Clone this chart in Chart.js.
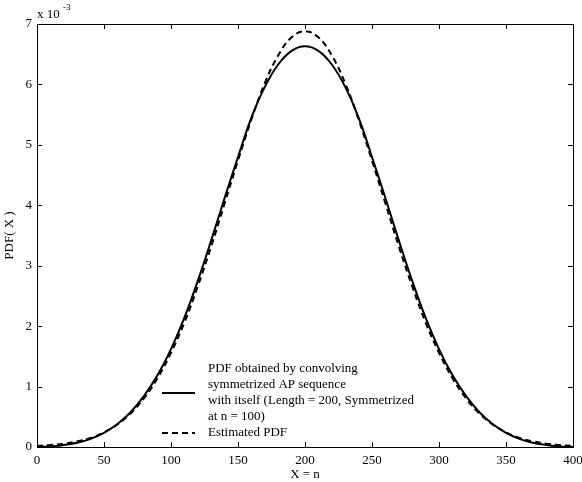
<!DOCTYPE html>
<html>
<head>
<meta charset="utf-8">
<script src="https://cdn.jsdelivr.net/npm/chart.js@4.4.0/dist/chart.umd.min.js"></script>
<style>
  body { margin: 0; background: #fff; }
</style>
</head>
<body>
<canvas id="pdfChart" width="582" height="482"></canvas>
<script>
// Data (y values in units of 1e-3)
const xValues = [0, 10, 20, 30, 40, 50, 60, 70, 80, 90, 100, 110, 120, 130, 140, 150, 160, 170, 180, 190,
  200, 210, 220, 230, 240, 250, 260, 270, 280, 290, 300, 310, 320, 330, 340, 350, 360, 370, 380, 390, 400];
const convolvedPdf = [0, 0.01, 0.035, 0.07, 0.135, 0.235, 0.38, 0.58, 0.85, 1.19, 1.62, 2.14, 2.75, 3.42, 4.12, 4.80,
  5.45, 5.96, 6.33, 6.555, 6.63, 6.555, 6.33, 5.96, 5.45, 4.80, 4.12, 3.42, 2.75, 2.14, 1.62, 1.19, 0.85, 0.58,
  0.38, 0.235, 0.135, 0.07, 0.035, 0.01, 0];
const estimatedPdf = [0.018, 0.032, 0.056, 0.094, 0.15, 0.243, 0.373, 0.558, 0.81, 1.14, 1.56, 2.06, 2.66, 3.32,
  4.03, 4.74, 5.42, 6.02, 6.48, 6.78, 6.88, 6.78, 6.48, 6.02, 5.42, 4.74, 4.03, 3.32, 2.66, 2.06, 1.56, 1.14,
  0.81, 0.558, 0.373, 0.243, 0.15, 0.094, 0.056, 0.032, 0.018];
const xTicks = [0, 50, 100, 150, 200, 250, 300, 350, 400];
const yTicks = [0, 1, 2, 3, 4, 5, 6, 7];
const seriesLabels = [
  ["PDF obtained by convolving", "symmetrized AP sequence", "with itself (Length = 200, Symmetrized", "at n = 100)"],
  ["Estimated PDF"]
];

const FONT = "'Liberation Serif', 'Times New Roman', serif";

// frame, inward ticks, exponent and legend
const framePlugin = {
  id: "framePlugin",
  afterDraw(chart) {
    const ctx = chart.ctx;
    const a = chart.chartArea;
    const xs = chart.scales.x, ys = chart.scales.y;
    ctx.save();
    ctx.strokeStyle = "#000";
    ctx.lineWidth = 1;
    ctx.strokeRect(a.left + 0.5, a.top + 0.5, a.right - a.left, a.bottom - a.top);
    ctx.beginPath();
    xTicks.forEach(v => {
      const px = Math.round(xs.getPixelForValue(v)) + 0.5;
      ctx.moveTo(px, a.bottom); ctx.lineTo(px, a.bottom - 5);
      ctx.moveTo(px, a.top); ctx.lineTo(px, a.top + 5);
    });
    yTicks.forEach(v => {
      const py = Math.round(ys.getPixelForValue(v)) + 0.5;
      ctx.moveTo(a.left, py); ctx.lineTo(a.left + 5, py);
      ctx.moveTo(a.right, py); ctx.lineTo(a.right - 5, py);
    });
    ctx.stroke();

    // x 10^-3
    ctx.fillStyle = "#000";
    ctx.textBaseline = "alphabetic";
    ctx.textAlign = "left";
    ctx.font = "13px " + FONT;
    ctx.fillText("x 10", a.left, 18);
    ctx.font = "9px " + FONT;
    ctx.fillText("-3", a.left + 26, 10);

    // legend
    ctx.font = "13px " + FONT;
    ctx.textBaseline = "middle";
    const lx0 = 162, lx1 = 195, tx = 208;
    const lines = seriesLabels[0];
    lines.forEach((t, i) => ctx.fillText(t, tx, 369 + i * 16));
    ctx.lineWidth = 2;
    ctx.beginPath(); ctx.moveTo(lx0, 393); ctx.lineTo(lx1, 393); ctx.stroke();
    ctx.setLineDash([6, 4]);
    ctx.beginPath(); ctx.moveTo(lx0, 433); ctx.lineTo(lx1, 433); ctx.stroke();
    ctx.setLineDash([]);
    ctx.fillText(seriesLabels[1][0], tx, 433);
    ctx.restore();
  }
};

new Chart(document.getElementById("pdfChart"), {
  type: "line",
  data: {
    datasets: [
      {
        label: seriesLabels[0].join(" "),
        data: xValues.map((x, i) => ({ x: x, y: convolvedPdf[i] })),
        borderColor: "#000",
        borderWidth: 2,
        pointRadius: 0,
        tension: 0.4,
      },
      {
        label: seriesLabels[1][0],
        data: xValues.map((x, i) => ({ x: x, y: estimatedPdf[i] })),
        borderColor: "#000",
        borderWidth: 2,
        borderDash: [6, 4],
        pointRadius: 0,
        tension: 0.4,
      },
    ],
  },
  options: {
    responsive: false,
    animation: false,
    layout: { padding: { top: 24, right: 9, left: 0, bottom: 0 } },
    plugins: { legend: { display: false }, tooltip: { enabled: false } },
    scales: {
      x: {
        type: "linear",
        min: 0,
        max: 400,
        afterBuildTicks: s => { s.ticks = xTicks.map(v => ({ value: v })); },
        afterFit: s => { s.height = 35; s.paddingLeft = 0; s.paddingRight = 0; },
        grid: { display: false, drawTicks: false },
        border: { display: false },
        ticks: { color: "#000", padding: 6, maxRotation: 0, font: { family: FONT, size: 13 } },
        title: { display: true, text: "X = n", color: "#000", padding: 0, font: { family: FONT, size: 13 } },
      },
      y: {
        type: "linear",
        min: 0,
        max: 7,
        afterBuildTicks: s => { s.ticks = yTicks.map(v => ({ value: v })); },
        afterFit: s => { s.width = 37; s.paddingTop = 0; s.paddingBottom = 0; },
        grid: { display: false, drawTicks: false },
        border: { display: false },
        ticks: { color: "#000", padding: 5, font: { family: FONT, size: 13 } },
        title: { display: true, text: "PDF( X )", color: "#000", padding: 2, font: { family: FONT, size: 13 } },
      },
    },
  },
  plugins: [framePlugin],
});
</script>
</body>
</html>
